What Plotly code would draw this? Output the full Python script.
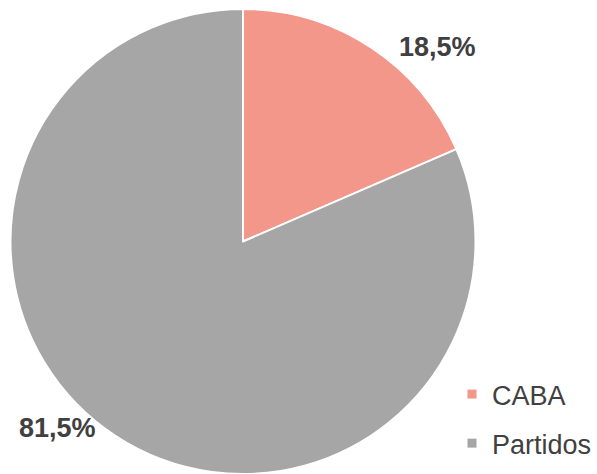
import plotly.graph_objects as go

labels = ["CABA", "Partidos"]
values = [18.5, 81.5]
colors = ["#F3978A", "#A6A6A6"]
label_pos = [(437.5 / 597, (474 - 47) / 465), (57 / 597, (474 - 428) / 465)]

fig = go.Figure()
fig.add_trace(go.Pie(
    labels=labels, values=values, sort=False, direction="clockwise", rotation=0,
    marker=dict(colors=colors, line=dict(color="white", width=2)),
    textinfo="none", hoverinfo="label+percent", showlegend=False,
    domain=dict(x=[0, 486 / 597], y=[0, 1]),
))
for lab, col in zip(labels, colors):
    fig.add_trace(go.Scatter(x=[None], y=[None], mode="markers", name=lab,
                             legendgroup=lab,
                             marker=dict(symbol="square", size=9, color=col)))

for v, (px, py) in zip(values, label_pos):
    fig.add_annotation(x=px, y=py, xref="paper", yref="paper", showarrow=False,
                       text="<b>" + f"{v:.1f}".replace(".", ",") + "%</b>",
                       font=dict(family="Liberation Sans, Arial", size=27, color="#404040"),
                       xanchor="center", yanchor="middle")

fig.update_layout(
    width=597, height=474, autosize=False,
    margin=dict(l=0, r=0, t=9, b=0, autoexpand=False),
    paper_bgcolor="white", plot_bgcolor="white",
    xaxis=dict(visible=False), yaxis=dict(visible=False),
    legend=dict(x=452 / 597, y=(474 - 370) / 465, xanchor="left", yanchor="top",
                font=dict(family="Liberation Sans, Arial", size=27, color="#404040"),
                bgcolor="rgba(0,0,0,0)", itemwidth=30, tracegroupgap=11),
)
fig.write_html(
    "out.html",
    config={"responsive": False, "displayModeBar": False},
    post_script="document.body.style.margin='0';",
)
